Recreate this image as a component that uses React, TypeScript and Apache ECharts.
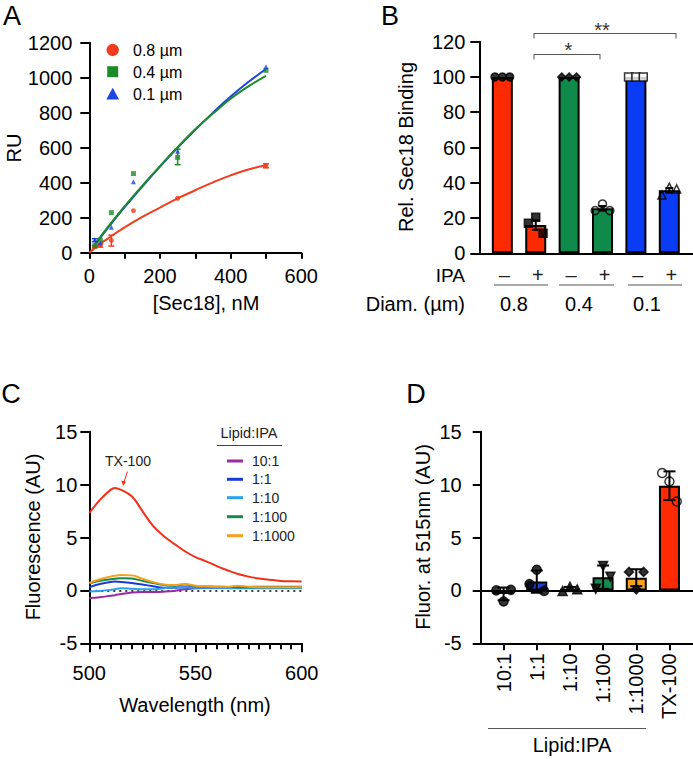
import React, { useEffect, useRef } from "react";
import * as echarts from "echarts";

// ---------- Panel A data ----------
const A_CONC = [15.6, 31.25, 62.5, 125, 250, 500];
const A_RED = [34, 44, 70, 240, 311, 497];
const A_GREEN = [40, 72, 229, 452, 545, 1042];
const A_BLUE = [72, 55, 145, 406, 580, 1062];
const A_RED_ERR = [[15.6, 28, 42], [31.25, 32, 52], [62.5, 38, 100], [500, 485, 508]];
const A_GREEN_ERR = [[250, 503, 592]];
const A_BLUE_ERR = [[15.6, 64, 80]];
const A_FIT_RED_X = [0, 25, 50, 100, 150, 200, 250, 300, 350, 400, 450, 500];
const A_FIT_RED_Y = [0, 42, 78, 145, 205, 258, 310, 357, 402, 442, 475, 500];
const A_FIT_X = [15, 50, 100, 150, 200, 250, 300, 350, 400, 450, 500];
const A_FIT_GREEN_Y = [45, 140, 265, 382, 495, 603, 705, 795, 880, 950, 1010];
const A_FIT_BLUE_Y = [42, 135, 260, 378, 492, 600, 703, 800, 892, 975, 1050];
const A_LEGEND = ["0.8 µm", "0.4 µm", "0.1 µm"];

// ---------- Panel B data ----------
const B_IPA = ["–", "+", "–", "+", "–", "+"];
const B_DIAM = ["0.8", "0.4", "0.1"];
const B_MEANS = [100, 16, 100, 25.5, 100, 35.7];
const B_SEM = [0, 2.7, 0, 1.3, 0, 1.3];
const B_REPS = [
  [100, 100, 100],
  [17, 20.4, 11.3],
  [100, 100, 100],
  [24.2, 28, 24.2],
  [100, 100, 100],
  [33, 37.5, 36.5],
];

// ---------- Panel C data ----------
const C_WL = [500, 505, 510, 512, 515, 520, 525, 530, 535, 540, 545, 550, 555, 560, 565, 570, 575, 580, 585, 590, 595, 600];
const C_TX100 = [7.3, 8.55, 9.5, 9.68, 9.5, 8.9, 7.5, 6.1, 5.15, 4.4, 3.7, 3.15, 2.75, 2.3, 1.9, 1.55, 1.3, 1.12, 1.0, 0.9, 0.86, 0.85];
const C_10_1 = [-0.72, -0.65, -0.5, -0.45, -0.35, -0.2, -0.15, -0.15, -0.12, -0.05, 0.1, 0.2, 0.25, 0.3, 0.3, 0.32, 0.33, 0.35, 0.35, 0.35, 0.35, 0.35];
const C_1_1 = [0.3, 0.6, 0.8, 0.83, 0.8, 0.7, 0.55, 0.4, 0.25, 0.25, 0.3, 0.28, 0.26, 0.25, 0.25, 0.25, 0.23, 0.22, 0.22, 0.22, 0.23, 0.25];
const C_1_10 = [-0.1, -0.05, 0.05, 0.12, 0.2, 0.15, 0.1, 0.1, 0.2, 0.3, 0.28, 0.25, 0.25, 0.25, 0.22, 0.2, 0.2, 0.2, 0.2, 0.2, 0.2, 0.2];
const C_1_100 = [0.65, 0.9, 1.05, 1.1, 1.15, 1.12, 0.9, 0.7, 0.5, 0.45, 0.55, 0.4, 0.38, 0.35, 0.32, 0.3, 0.3, 0.3, 0.3, 0.3, 0.3, 0.3];
const C_1_1000 = [0.7, 1.05, 1.3, 1.38, 1.45, 1.42, 1.1, 0.8, 0.55, 0.5, 0.6, 0.45, 0.4, 0.35, 0.35, 0.45, 0.35, 0.3, 0.3, 0.3, 0.3, 0.3];
const C_LEGEND = ["10:1", "1:1", "1:10", "1:100", "1:1000"];

// ---------- Panel D data ----------
const D_CATS = ["10:1", "1:1", "1:10", "1:100", "1:1000", "TX-100"];
const D_MEANS = [-0.33, 0.83, 0.13, 1.25, 1.2, 9.9];
const D_SD = [0.6, 1.05, 0.2, 1.1, 0.8, 1.35];
const D_REPS = [
  [0.0, -1.05, 0.05],
  [0.6, 1.95, -0.05],
  [-0.05, 0.35, 0.1],
  [0.15, 2.3, 1.3],
  [1.75, 0.1, 1.75],
  [11.1, 10.3, 8.4],
];

// ---------- styles ----------
const FONT = "'Liberation Sans', Arial, Helvetica, sans-serif";
const RED_A = "#f23c1e";
const GREEN_A = "#1c8c28";
const BLUE_A = "#1c44e0";
const B_COLORS = ["#ff2a00", "#ff2a00", "#0f8a4a", "#0f8a4a", "#0a3cf5", "#0a3cf5"];
const C_COLORS = ["#9a2aa0", "#1a3ad8", "#2aa0ee", "#168a4c", "#f5a01e"];
const C_RED = "#f2301a";
const D_COLORS = ["#7b2d8e", "#1c3fd6", "#2a9be8", "#148a4e", "#f6a21d", "#ff2a00"];
const JIT = [-0.22, 0, 0.22];
const B_MARK = [
  { s: "circle", f: "#000" },
  { s: "rect", f: "#000" },
  { s: "diamond", f: "#000" },
  { s: "circle", f: "rgba(0,0,0,0)" },
  { s: "rect", f: "#fff" },
  { s: "triangle", f: "rgba(0,0,0,0)" },
];
const D_MARK = [
  { s: "circle", f: "#000", r: 0 },
  { s: "circle", f: "#000", r: 0 },
  { s: "triangle", f: "#000", r: 0 },
  { s: "triangle", f: "#000", r: 180 },
  { s: "diamond", f: "#000", r: 0 },
  { s: "circle", f: "rgba(0,0,0,0)", r: 0 },
];

const axisLine = { show: true, onZero: false, lineStyle: { color: "#000", width: 2 } };
const tick = (len: number) => ({ show: true, length: len, lineStyle: { color: "#000", width: 2 } });
const lab = (margin: number) => ({ fontSize: 20, color: "#000", fontFamily: FONT, margin, formatter: (v: number) => String(v) });

function errSeries(idx: number, data: number[][], color: string, cap: number, width: number, z: number) {
  return {
    type: "custom",
    xAxisIndex: idx,
    yAxisIndex: idx,
    data,
    z,
    silent: true,
    encode: { x: 0, y: [1, 2] },
    renderItem: (_p: any, api: any) => {
      const x = api.value(0);
      const a = api.coord([x, api.value(1)]);
      const b = api.coord([x, api.value(2)]);
      const st = { stroke: color, lineWidth: width };
      return {
        type: "group",
        children: [
          { type: "line", shape: { x1: a[0], y1: a[1], x2: b[0], y2: b[1] }, style: st },
          { type: "line", shape: { x1: b[0] - cap, y1: b[1], x2: b[0] + cap, y2: b[1] }, style: st },
          { type: "line", shape: { x1: a[0] - cap, y1: a[1], x2: a[0] + cap, y2: a[1] }, style: st },
        ],
      };
    },
  };
}

const txt = (text: string, x: number, y: number, size: number, o: any = {}) => ({
  type: "text",
  x,
  y,
  rotation: o.rot || 0,
  silent: true,
  style: {
    text,
    fontSize: size,
    fontFamily: FONT,
    fill: o.fill || "#000",
    textAlign: o.align || "center",
    textVerticalAlign: o.valign || "middle",
  },
});
const ln = (x1: number, y1: number, x2: number, y2: number, stroke = "#000", w = 1) => ({
  type: "line",
  silent: true,
  shape: { x1, y1, x2, y2 },
  style: { stroke, lineWidth: w },
});

function buildOption() {
  const zip = (xs: number[], ys: number[]) => xs.map((x, i) => [x, ys[i]]);
  const series: any[] = [];

  // ----- A -----
  series.push(
    { type: "line", name: "fitR", xAxisIndex: 0, yAxisIndex: 0, data: zip(A_FIT_RED_X, A_FIT_RED_Y), smooth: true, showSymbol: false, lineStyle: { color: RED_A, width: 2 }, z: 2 },
    { type: "line", name: "fitB", xAxisIndex: 0, yAxisIndex: 0, data: zip(A_FIT_X, A_FIT_BLUE_Y), smooth: true, showSymbol: false, lineStyle: { color: BLUE_A, width: 2 }, z: 2 },
    { type: "line", name: "fitG", xAxisIndex: 0, yAxisIndex: 0, data: zip(A_FIT_X, A_FIT_GREEN_Y), smooth: true, showSymbol: false, lineStyle: { color: GREEN_A, width: 2 }, z: 2 },
    errSeries(0, A_RED_ERR, RED_A, 3, 1.5, 3),
    errSeries(0, A_GREEN_ERR, GREEN_A, 3, 1.5, 3),
    errSeries(0, A_BLUE_ERR, BLUE_A, 3, 1.5, 3),
    { type: "scatter", name: A_LEGEND[0], xAxisIndex: 0, yAxisIndex: 0, data: zip(A_CONC, A_RED), symbol: "circle", symbolSize: 5, itemStyle: { color: RED_A }, z: 4 },
    { type: "scatter", name: A_LEGEND[1], xAxisIndex: 0, yAxisIndex: 0, data: zip(A_CONC, A_GREEN), symbol: "rect", symbolSize: 5, itemStyle: { color: GREEN_A }, z: 4 },
    { type: "scatter", name: A_LEGEND[2], xAxisIndex: 0, yAxisIndex: 0, data: zip(A_CONC, A_BLUE), symbol: "triangle", symbolSize: 5, itemStyle: { color: BLUE_A }, z: 4 }
  );

  // ----- B -----
  series.push({
    type: "bar",
    xAxisIndex: 1,
    yAxisIndex: 1,
    barWidth: 21,
    z: 2,
    data: B_MEANS.map((v, i) => ({ value: [i, v], itemStyle: { color: B_COLORS[i], borderColor: "#000", borderWidth: 2 } })),
  });
  series.push(
    errSeries(
      1,
      B_MEANS.map((m, i) => [i, m - B_SEM[i], m + B_SEM[i]]).filter((_, i) => B_SEM[i] > 0),
      "#000",
      4,
      2,
      3
    )
  );
  series.push({
    type: "scatter",
    xAxisIndex: 1,
    yAxisIndex: 1,
    z: 4,
    data: B_REPS.flatMap((reps, i) =>
      reps.map((v, k) => ({
        value: [i + JIT[k], v],
        symbol: B_MARK[i].s,
        symbolSize: 8,
        itemStyle: { color: B_MARK[i].f, borderColor: "#000", borderWidth: 1.5 },
      }))
    ),
  });

  // ----- C -----
  const cSets = [C_10_1, C_1_1, C_1_10, C_1_100, C_1_1000];
  cSets.forEach((ys, i) => {
    series.push({
      type: "line",
      name: C_LEGEND[i],
      xAxisIndex: 2,
      yAxisIndex: 2,
      data: zip(C_WL, ys),
      smooth: 0.4,
      showSymbol: false,
      lineStyle: { color: C_COLORS[i], width: 2 },
      z: 3 + i * 0.1,
    });
  });
  series.push({
    type: "line",
    name: "TX-100",
    xAxisIndex: 2,
    yAxisIndex: 2,
    data: zip(C_WL, C_TX100),
    smooth: 0.4,
    showSymbol: false,
    lineStyle: { color: C_RED, width: 2 },
    z: 4,
    markLine: {
      silent: true,
      symbol: "none",
      label: { show: false },
      lineStyle: { color: "#000", width: 1.5, type: [2, 4] },
      data: [{ yAxis: 0 }],
      z: 2,
    },
  });

  // ----- D -----
  series.push({
    type: "bar",
    xAxisIndex: 3,
    yAxisIndex: 3,
    barWidth: 21,
    z: 2,
    data: D_MEANS.map((v, i) => ({ value: [i, v], itemStyle: { color: D_COLORS[i], borderColor: "#000", borderWidth: 2 } })),
    markLine: {
      silent: true,
      symbol: "none",
      label: { show: false },
      lineStyle: { color: "#000", width: 2, type: "solid" },
      data: [{ yAxis: 0 }],
    },
  });
  series.push(errSeries(3, D_MEANS.map((m, i) => [i, m - D_SD[i], m + D_SD[i]]), "#000", 6, 2, 3));
  series.push({
    type: "scatter",
    xAxisIndex: 3,
    yAxisIndex: 3,
    z: 4,
    data: D_REPS.flatMap((reps, i) =>
      reps.map((v, k) => ({
        value: [i + JIT[k], v],
        symbol: D_MARK[i].s,
        symbolRotate: D_MARK[i].r,
        symbolSize: 9,
        itemStyle: { color: D_MARK[i].f, borderColor: "#000", borderWidth: 1.5 },
      }))
    ),
  });

  // ----- graphic annotations -----
  const bx = (i: number) => 479.3 + (i + 0.69) * 33.39;
  const g: any[] = [];
  g.push(txt("A", 12, 16, 27), txt("B", 390, 16, 27), txt("C", 11, 394, 27), txt("D", 416, 394, 27));
  // A
  g.push(txt("RU", 14, 148, 20, { rot: Math.PI / 2 }), txt("[Sec18], nM", 206, 303, 20));
  g.push({ type: "circle", silent: true, shape: { cx: 112.7, cy: 50, r: 6.2 }, style: { fill: RED_A } });
  g.push({ type: "rect", silent: true, shape: { x: 107.2, y: 66.2, width: 11, height: 11 }, style: { fill: GREEN_A } });
  g.push({ type: "polygon", silent: true, shape: { points: [[112.7, 87.8], [106.3, 99.5], [119.1, 99.5]] }, style: { fill: BLUE_A } });
  A_LEGEND.forEach((t, i) => g.push(txt(t, 133, [50, 72, 94][i], 16, { align: "left" })));
  // B
  g.push(txt("Rel. Sec18 Binding", 406, 147, 20, { rot: Math.PI / 2 }));
  g.push(txt("IPA", 465, 275, 19, { align: "right" }));
  B_IPA.forEach((s, i) => g.push(txt(s, bx(i) + 2, 274.5, 20, { fill: "#222" })));
  [[494, 548], [559, 614], [628, 682]].forEach(([a, b]) => g.push(ln(a, 285, b, 285, "#555", 1)));
  g.push(txt("Diam. (µm)", 465, 304, 20, { align: "right" }));
  B_DIAM.forEach((t, i) => g.push(txt(t, [514, 579, 647][i], 304, 20)));
  g.push(ln(534, 54.5, 600, 54.5, "#555", 1), ln(534, 54, 534, 59.5, "#555", 1), ln(600, 54, 600, 59.5, "#555", 1));
  g.push(ln(534, 33.5, 676, 33.5, "#555", 1), ln(534, 33, 534, 38.5, "#555", 1), ln(676, 33, 676, 38.5, "#555", 1));
  g.push(txt("*", 568.5, 50, 20, { fill: "#333" }), txt("**", 602, 30, 20, { fill: "#333" }));
  // C
  g.push(txt("Fluorescence (AU)", 33, 537, 20, { rot: Math.PI / 2 }), txt("Wavelength (nm)", 195, 705, 20));
  g.push(txt("Lipid:IPA", 249, 433, 14.5, { fill: "#222" }), ln(217, 445.5, 282, 445.5, "#444", 1));
  const legY = [461, 479.3, 497.7, 516.7, 535.7];
  C_LEGEND.forEach((t, i) => {
    g.push(ln(227, legY[i], 243, legY[i], C_COLORS[i], 3));
    g.push(txt(t, 252, legY[i], 14, { align: "left", fill: "#222" }));
  });
  g.push(txt("TX-100", 128, 461, 14, { fill: "#222" }));
  g.push(ln(127.5, 471.5, 124, 482, C_RED, 1));
  g.push({ type: "polygon", silent: true, shape: { points: [[123.2, 486], [121.2, 480.6], [126, 481.8]] }, style: { fill: C_RED } });
  // D
  g.push(txt("Fluor. at 515nm (AU)", 423, 537, 20, { rot: Math.PI / 2 }));
  g.push(ln(488, 728.5, 646, 728.5, "#555", 1), txt("Lipid:IPA", 572, 745, 20));

  return {
    animation: false,
    backgroundColor: "#fff",
    textStyle: { fontFamily: FONT },
    grid: [
      { left: 89.3, top: 42.7, width: 212, height: 210 },
      { left: 479.3, top: 41.7, width: 213.7, height: 211.6 },
      { left: 89.3, top: 431.7, width: 212.4, height: 211.6 },
      { left: 480.7, top: 431.7, width: 212.3, height: 211.6 },
    ],
    xAxis: [
      {
        gridIndex: 0, type: "value", min: 0, max: 600, interval: 100,
        axisLine, axisTick: tick(6), splitLine: { show: false },
        axisLabel: { ...lab(13), formatter: (v: number) => (v % 200 === 0 ? String(v) : "") },
      },
      {
        gridIndex: 1, type: "value", min: -0.69, max: 5.71,
        axisLine, axisTick: { show: false }, axisLabel: { show: false }, splitLine: { show: false },
      },
      {
        gridIndex: 2, type: "value", min: 500, max: 600, interval: 50,
        axisLine, axisTick: tick(9), splitLine: { show: false },
        minorTick: { show: true, splitNumber: 10, length: 6, lineStyle: { color: "#000", width: 2 } },
        minorSplitLine: { show: false },
        axisLabel: lab(20),
      },
      {
        gridIndex: 3, type: "value", min: -0.69, max: 5.71,
        axisLine, splitLine: { show: false },
        axisTick: { ...tick(7), customValues: [0, 1, 2, 3, 4, 5] },
        axisLabel: { ...lab(10), rotate: 90, customValues: [0, 1, 2, 3, 4, 5], formatter: (v: number) => D_CATS[Math.round(v)] ?? "" },
      },
    ],
    yAxis: [
      { gridIndex: 0, type: "value", min: 0, max: 1200, interval: 200, axisLine, axisTick: tick(9), splitLine: { show: false }, axisLabel: lab(17) },
      { gridIndex: 1, type: "value", min: 0, max: 120, interval: 20, axisLine, axisTick: tick(9), splitLine: { show: false }, axisLabel: lab(14) },
      { gridIndex: 2, type: "value", min: -5, max: 15, interval: 5, axisLine, axisTick: tick(9), splitLine: { show: false }, axisLabel: lab(12) },
      { gridIndex: 3, type: "value", min: -5, max: 15, interval: 5, axisLine, axisTick: tick(8), splitLine: { show: false }, axisLabel: lab(19) },
    ],
    series,
    graphic: g,
  };
}

export default function App() {
  const ref = useRef<HTMLDivElement>(null);
  useEffect(() => {
    if (!ref.current) return;
    const chart = echarts.init(ref.current, undefined, { renderer: "svg" });
    chart.setOption(buildOption() as any);
    return () => chart.dispose();
  }, []);
  return <div ref={ref} style={{ position: "absolute", left: 0, top: 0, width: 693, height: 759, background: "#fff" }} />;
}
